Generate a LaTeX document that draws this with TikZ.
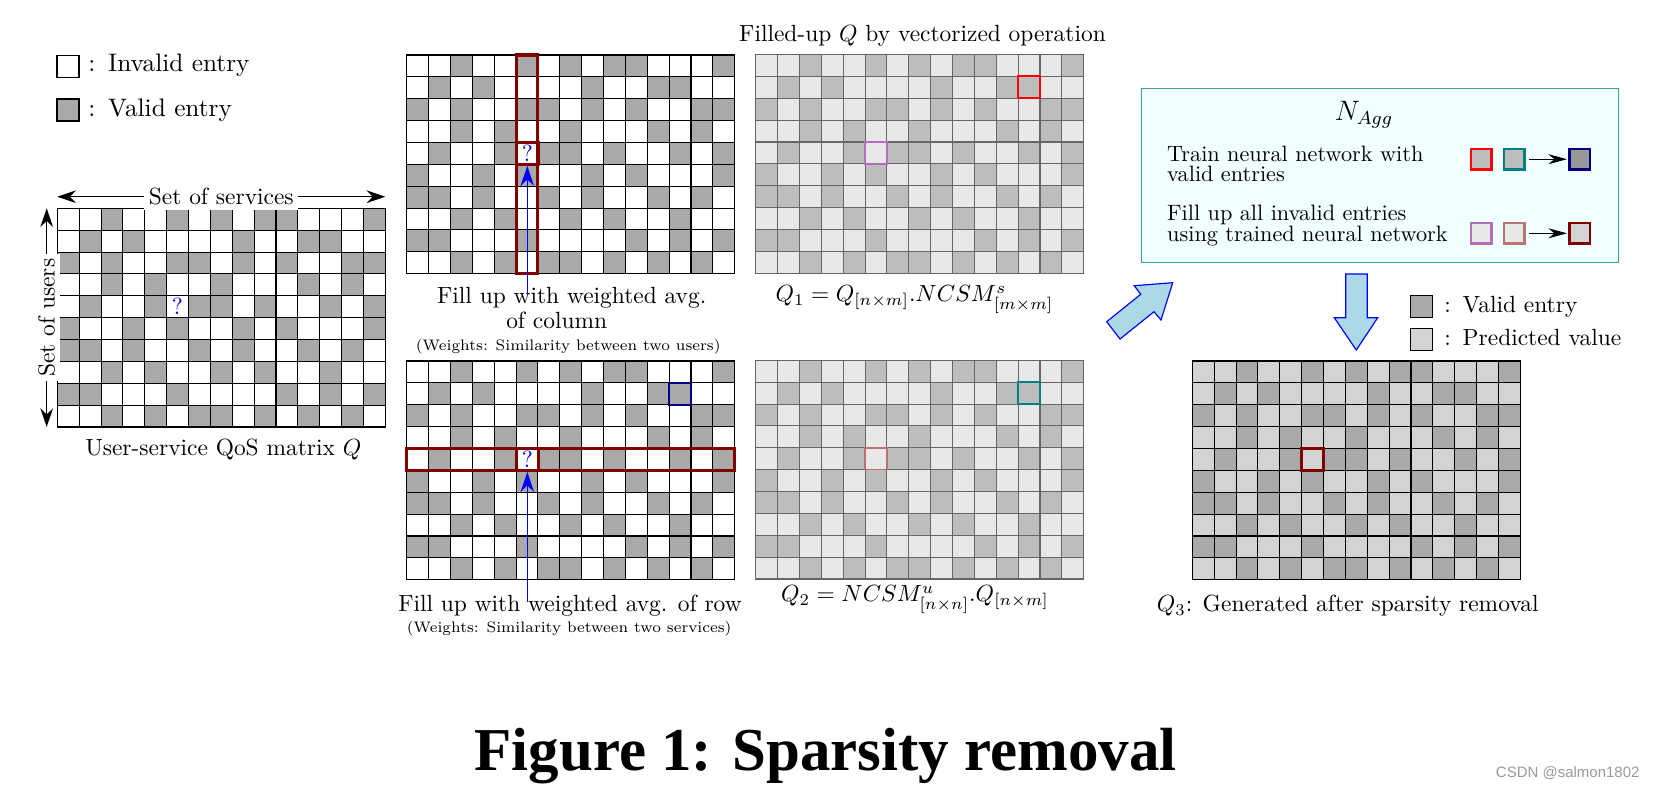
\documentclass[tikz,border=0pt]{standalone}
\usepackage{amsmath}
\usepackage{fontspec}
\usepackage{tikz}
\usetikzlibrary{
  arrows.meta,
  positioning
}
\newfontfamily\captionfont{Liberation Serif}
\newfontfamily\markfont{Liberation Sans}
\definecolor{qosvalid}{RGB}{169,169,169}
\definecolor{qospredict}{RGB}{211,211,211}
\definecolor{qosvecvalid}{RGB}{189,189,189}
\definecolor{qosvecfill}{RGB}{232,232,232}
\definecolor{qosdarkred}{RGB}{128,0,0}
\definecolor{qosnavy}{RGB}{0,0,128}
\definecolor{qosred}{RGB}{255,0,0}
\definecolor{qosteal}{RGB}{0,128,128}
\definecolor{qosorchid}{RGB}{180,110,190}
\definecolor{qosrosy}{RGB}{185,115,115}
\definecolor{qosbox}{RGB}{60,160,155}
\definecolor{qosboxfill}{RGB}{240,255,255}
\definecolor{qosblock}{RGB}{173,216,230}
\tikzset{
  qosText/.style={
    inner sep=0pt
  },
  qosSwatch/.style={
    rectangle,
    draw=black,
    line width=0.5pt,
    minimum size=0.33cm,
    inner sep=0pt
  },
  qosQuery/.style={
    rectangle,
    minimum size=0.328cm,
    inner sep=0pt,
    text=blue
  },
  qosFrame/.style={
    draw=qosdarkred,
    line width=1.3pt
  },
  qosPick/.style={
    line width=0.9pt
  },
  qosPointer/.style={
    -{Stealth[length=3mm,width=2mm]},
    draw=blue,
    line width=0.5pt
  },
  qosSpan/.style={
    {Stealth[length=2.8mm,width=1.9mm]}-{Stealth[length=2.8mm,width=1.9mm]},
    line width=0.5pt
  },
  qosBlock/.style={
    fill=qosblock,
    draw=blue,
    line width=0.5pt
  },
  naggBox/.style={
    rectangle,
    draw=qosbox,
    fill=qosboxfill,
    line width=0.6pt,
    minimum width=7.15cm,
    minimum height=2.616cm
  },
  naggCell/.style={
    rectangle,
    line width=1pt,
    minimum size=0.31cm,
    inner sep=0pt
  },
  naggArrow/.style={
    -{Stealth[length=2.8mm,width=1.5mm]},
    line width=0.5pt,
    shorten <=1.5pt,
    shorten >=0.5pt
  }
}
\def\qcs{21.87}
\def\qospattern{%
  {0,0,1,0,0,1,0,1,0,1,1,0,0,0,1},%
  {0,1,0,1,0,0,0,0,1,0,0,1,1,0,0},%
  {1,0,1,0,0,1,1,0,1,0,1,0,0,1,1},%
  {0,0,1,0,1,0,0,1,0,0,0,1,0,1,0},%
  {0,1,0,0,1,0,1,1,0,1,0,0,1,0,1},%
  {1,0,0,1,0,1,0,0,1,0,1,0,0,0,1},%
  {1,1,0,1,0,0,1,0,1,0,0,1,0,1,0},%
  {0,0,1,0,1,0,0,1,0,1,0,0,1,0,0},%
  {1,1,0,0,0,1,0,0,0,0,1,0,1,0,1},%
  {0,0,1,0,1,0,1,1,0,1,0,1,0,1,0}}
\newcommand{\qosgrid}[4]{%
  \begin{scope}[shift={#1}]
    \foreach \rowbits [count=\r from 0] in \qospattern {
      \foreach \b [count=\c from 0] in \rowbits {
        \ifnum\b=1 \def\cellfill{#3}\else\def\cellfill{#2}\fi
        \filldraw[fill=\cellfill, draw=#4, line width=0.45pt]
          ({\c*\qcs},{\r*\qcs}) rectangle ++(\qcs,\qcs);
      }
    }
  \end{scope}
}
\newcommand{\qosmark}[4]{%
  \draw[#4, shift={#1}] ({#2*\qcs},{#3*\qcs}) rectangle ++(\qcs,\qcs);
}

\begin{document}
\begin{tikzpicture}[x=0.015cm, y=-0.015cm]
  \useasboundingbox (0,0) rectangle (1656,789);

  \node[qosSwatch, fill=white] (legInvalid) at (68,66.5) {};
  \node[qosSwatch, fill=qosvalid] (legValid) at (68,110) {};
  \node[qosText, anchor=base west, font=\fontsize{10.8}{13}\selectfont] (legInvalidText)
    at (88,71.7) {:\enskip Invalid entry};
  \node[qosText, anchor=base west, font=\fontsize{10.8}{13}\selectfont] (legValidText)
    at (88,116.7) {:\enskip Valid entry};

  \qosgrid{(57.3,208.3)}{white}{qosvalid}{black}
  \qosgrid{(406.7,55)}{white}{qosvalid}{black}
  \qosgrid{(406.7,361)}{white}{qosvalid}{black}
  \qosgrid{(755.7,54.5)}{qosvecfill}{qosvecvalid}{black!60}
  \qosgrid{(755.7,360.3)}{qosvecfill}{qosvecvalid}{black!60}
  \qosgrid{(1192.3,361)}{qospredict}{qosvalid}{black}

  \coordinate (svcLeft) at (57.3,196.7);
  \coordinate (svcRight) at (385.3,196.7);
  \coordinate (usrTop) at (46.7,208.3);
  \coordinate (usrBottom) at (46.7,427);
  \draw[qosSpan] (svcLeft) -- (svcRight)
    node[midway, fill=white, inner sep=2pt] (svcLabel) {Set of services};
  \draw[qosSpan] (usrTop) -- (usrBottom)
    node[midway, fill=white, inner sep=2pt, rotate=90] (usrLabel) {Set of users};
  \node[qosQuery] (userQuery) at (177.3,306.4) {?};
  \node[qosText, anchor=base] (qLabel) at (223.3,455)
    {User-service QoS matrix $Q$};

  \draw[qosFrame, shift={(406.7,55)}] ({5*\qcs},0) rectangle ({6*\qcs},{10*\qcs});
  \node[qosQuery, draw=qosdarkred, line width=1.3pt] (colQuery) at (527.3,153.4) {?};
  \node[qosText, anchor=base] (colText) at (571.7,303) {Fill up with weighted avg.};
  \node[qosText, anchor=base] (colTextTwo) at (556.7,328) {of column};
  \node[qosText, anchor=base, font=\fontsize{6.5}{8}\selectfont] (colWeights) at (568.3,350)
    {(Weights: Similarity between two users)};
  \coordinate (colFrom) at (527.3,295);
  \draw[qosPointer] (colFrom) -- (colQuery.south);

  \draw[qosFrame, shift={(406.7,361)}] (0,{4*\qcs}) rectangle ({15*\qcs},{5*\qcs});
  \qosmark{(406.7,361)}{12}{1}{qosPick, draw=qosnavy}
  \node[qosQuery, draw=qosdarkred, line width=1.3pt] (rowQuery) at (527.3,459.4) {?};
  \node[qosText, anchor=base] (rowText) at (570,611.7) {Fill up with weighted avg. of row};
  \node[qosText, anchor=base, font=\fontsize{6.5}{8}\selectfont] (rowWeights) at (569.2,632.7)
    {(Weights: Similarity between two services)};
  \coordinate (rowFrom) at (527.3,601.7);
  \draw[qosPointer] (rowFrom) -- (rowQuery.south);

  \node[qosText, anchor=base] (vecTitle) at (922.5,41.7)
    {Filled-up $Q$ by vectorized operation};
  \qosmark{(755.7,54.5)}{12}{1}{qosPick, draw=qosred}
  \qosmark{(755.7,54.5)}{5}{4}{line width=0.7pt, draw=qosorchid}
  \node[qosText, anchor=base] (qOneEq) at (914.5,301.7)
    {$Q_1 = Q_{[n\times m]}.NCSM^s_{[m\times m]}$};
  \qosmark{(755.7,360.3)}{12}{1}{qosPick, draw=qosteal}
  \qosmark{(755.7,360.3)}{5}{4}{line width=0.7pt, draw=qosrosy}
  \node[qosText, anchor=base] (qTwoEq) at (915,601.7)
    {$Q_2 = NCSM^u_{[n\times n]}.Q_{[n\times m]}$};

  \node[naggBox] (nagg) at (1380,175.5) {};
  \node[qosText, anchor=base] (naggTitle) at (1364,120) {\large $N_{Agg}$};
  \node[qosText, anchor=base west, font=\fontsize{9.5}{11}\selectfont] (trainText)
    at (1166.7,161.2) {Train neural network with};
  \node[qosText, anchor=base west, font=\fontsize{9.5}{11}\selectfont] (trainTextTwo)
    at (1166.7,181.2) {valid entries};
  \node[qosText, anchor=base west, font=\fontsize{9.5}{11}\selectfont] (fillText)
    at (1166.7,220.7) {Fill up all invalid entries};
  \node[qosText, anchor=base west, font=\fontsize{9.5}{11}\selectfont] (fillTextTwo)
    at (1166.7,241.2) {using trained neural network};
  \node[naggCell, draw=qosred, fill=qosvecvalid] (trainA) at (1481,159.2) {};
  \node[naggCell, draw=qosteal, fill=qosvecvalid] (trainB) at (1514,159.2) {};
  \node[naggCell, draw=qosnavy, fill=qosvalid!90!black] (trainOut) at (1579.7,159.2) {};
  \draw[naggArrow] (trainB) -- (trainOut);
  \node[naggCell, draw=qosorchid, fill=qosvecfill] (fillA) at (1481,233.3) {};
  \node[naggCell, draw=qosrosy, fill=qosvecfill] (fillB) at (1514,233.3) {};
  \node[naggCell, draw=qosdarkred, fill=qospredict] (fillOut) at (1579.7,233.3) {};
  \draw[naggArrow] (fillB) -- (fillOut);

  \draw[qosBlock] (1106.7,321.7) -- (1120,339) -- (1154,311.7) -- (1161,320)
    -- (1172.7,282.7) -- (1134.3,285.7) -- (1140.7,294.3) -- cycle;
  \draw[qosBlock] (1345.7,274) -- (1367.3,274) -- (1367.3,317.7) -- (1377.7,317.7)
    -- (1356.3,350) -- (1334.3,317.7) -- (1345.7,317.7) -- cycle;

  \node[qosSwatch, fill=qosvalid] (legOut) at (1421.7,306.5) {};
  \node[qosSwatch, fill=qospredict] (legPred) at (1421.7,339.2) {};
  \node[qosText, anchor=base west] (legOutText) at (1444,312.3)
    {:\enskip Valid entry};
  \node[qosText, anchor=base west] (legPredText) at (1444,345.7)
    {:\enskip Predicted value};

  \qosmark{(1192.3,361)}{5}{4}{qosPick, line width=1.1pt, draw=qosdarkred}
  \node[qosText, anchor=base] (qThree) at (1347.7,611.7)
    {$Q_3$: Generated after sparsity removal};

  \node[qosText, anchor=base] (figCaption) at (825.5,770)
    {\captionfont\bfseries\fontsize{26}{30}\selectfont Figure 1: Sparsity removal};
  \node[qosText, anchor=base east, text=black!40] (csdnMark) at (1640,777)
    {\markfont\fontsize{6.4}{8}\selectfont CSDN @salmon1802};
\end{tikzpicture}
\end{document}
